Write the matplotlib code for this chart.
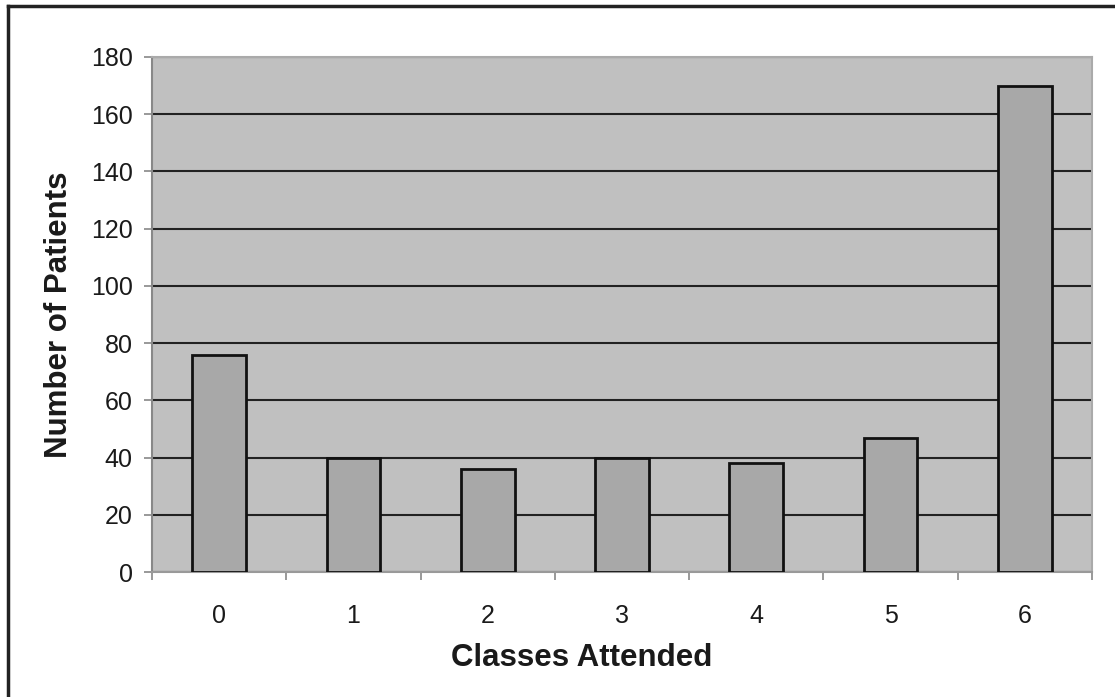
import matplotlib
matplotlib.use("Agg")
from matplotlib import pyplot as plt
from matplotlib.ticker import MultipleLocator, FixedLocator
from matplotlib.lines import Line2D

classes = ["0", "1", "2", "3", "4", "5", "6"]
patients = [76, 40, 36, 40, 38, 47, 170]

plt.rcParams["font.family"] = ["Liberation Sans", "DejaVu Sans"]

fig = plt.figure(figsize=(11.15, 6.97), dpi=100)
ax = fig.add_axes([152 / 1115, 1 - 572 / 697, 940 / 1115, 515 / 697])
ax.set_facecolor("#c0c0c0")

x = list(range(len(classes)))
ax.bar(x, patients, width=0.4, color="#a8a8a8", edgecolor="#111111", linewidth=2, zorder=3)

ax.set_xlim(-0.5, len(classes) - 0.5)
ax.set_ylim(0, 180)
ax.yaxis.set_major_locator(MultipleLocator(20))
ax.grid(axis="y", color="#222222", linewidth=1.5, zorder=1)
ax.set_axisbelow(True)

ax.set_xticks(x)
ax.set_xticklabels(classes)
ax.xaxis.set_minor_locator(FixedLocator([i - 0.5 for i in range(len(classes) + 1)]))
ax.tick_params(axis="x", which="major", length=0, pad=23, labelsize=18, labelcolor="#1a1a1a")
ax.tick_params(axis="x", which="minor", length=6, color="#888888", width=1.2)
ax.tick_params(axis="y", length=6, color="#888888", width=1.2, labelsize=18, pad=8, labelcolor="#1a1a1a")

for side in ["top", "right"]:
    ax.spines[side].set_color("#aaaaaa")
    ax.spines[side].set_linewidth(1.5)
ax.spines["left"].set_color("#888888")
ax.spines["left"].set_linewidth(1.5)
ax.spines["bottom"].set_color("#999999")
ax.spines["bottom"].set_linewidth(1.5)

ax.set_xlabel("Classes Attended", fontsize=22.5, fontweight="bold", color="#1a1a1a")
ax.set_ylabel("Number of Patients", fontsize=22.5, fontweight="bold", labelpad=12, color="#1a1a1a")
ax.xaxis.set_label_coords(0.457, -0.138)

# outer frame (left and top edges only)
fig.add_artist(Line2D([8 / 1115, 8 / 1115], [0, 1 - 6 / 697], transform=fig.transFigure, color="#222222", linewidth=2.5))
fig.add_artist(Line2D([8 / 1115, 1], [1 - 6 / 697, 1 - 6 / 697], transform=fig.transFigure, color="#222222", linewidth=2.5))

fig.savefig("out.png", dpi=100)
